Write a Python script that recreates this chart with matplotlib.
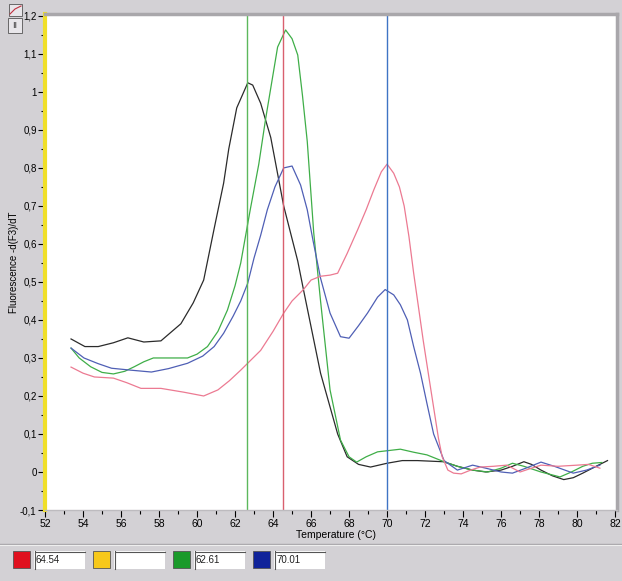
import matplotlib
matplotlib.use("Agg")
import matplotlib.pyplot as plt
from matplotlib.patches import Rectangle
from matplotlib.lines import Line2D
from matplotlib.ticker import MultipleLocator, FuncFormatter

plt.rcParams['font.family'] = ['Liberation Sans', 'DejaVu Sans']

# Curvas de fusion: temperatura (C) y -d(F3)/dT
black_t = [53.37, 54.1, 54.8, 55.6, 56.36, 57.2, 58.1, 59.15, 59.8, 60.35, 60.9, 61.4, 61.67,
           62.09, 62.67, 62.93, 63.35, 63.88, 64.56, 65.3, 65.6, 66.5, 67.4, 67.9, 68.5, 69.13,
           70.0, 70.8, 71.6, 72.97, 73.7, 74.5, 75.2, 76.0, 76.6, 77.2, 77.6, 78.1, 78.7, 79.3,
           79.8, 80.3, 81.0, 81.6]
black_v = [0.35, 0.33, 0.33, 0.34, 0.353, 0.342, 0.345, 0.39, 0.445, 0.505, 0.64, 0.76, 0.85,
           0.958, 1.024, 1.018, 0.97, 0.88, 0.70, 0.555, 0.48, 0.26, 0.10, 0.04, 0.02, 0.013,
           0.023, 0.03, 0.03, 0.027, 0.015, 0.005, 0.0, 0.005, 0.015, 0.027, 0.02, 0.005, -0.01, -0.02,
           -0.015, -0.003, 0.015, 0.03]

green_t = [53.37, 53.8, 54.4, 55.0, 55.6, 56.2, 56.7, 57.2, 57.7, 58.5, 59.5, 60.0, 60.55, 61.1,
           61.6, 62.0, 62.3, 62.8, 63.25, 63.6, 64.24, 64.66, 65.0, 65.3, 65.55, 65.8, 66.14, 66.5,
           67.0, 67.55, 68.0, 68.4, 68.9, 69.5, 70.7, 71.4, 72.1, 73.0, 73.7, 74.5, 75.3, 76.0,
           76.6, 77.2, 78.1, 79.1, 79.7, 80.3, 80.8, 81.3]
green_v = [0.326, 0.30, 0.277, 0.262, 0.258, 0.265, 0.277, 0.29, 0.30, 0.30, 0.30, 0.31, 0.33, 0.37,
           0.426, 0.49, 0.55, 0.69, 0.81, 0.926, 1.118, 1.163, 1.14, 1.097, 0.99, 0.87, 0.63, 0.45,
           0.216, 0.084, 0.04, 0.026, 0.04, 0.053, 0.06, 0.052, 0.045, 0.027, 0.015, 0.005, 0.0, 0.01,
           0.023, 0.015, 0.0, -0.013, 0.0, 0.015, 0.023, 0.025]

blue_t = [53.37, 54.05, 54.8, 55.5, 56.5, 57.6, 58.5, 59.5, 60.3, 60.9, 61.4, 61.9, 62.3, 62.67,
          63.0, 63.35, 63.7, 64.1, 64.56, 65.0, 65.45, 65.8, 66.1, 66.5, 67.0, 67.55, 68.0, 68.5,
          68.97, 69.5, 69.9, 70.35, 70.7, 71.07, 71.4, 71.76, 72.1, 72.45, 73.0, 73.7, 74.5, 75.2,
          76.0, 76.6, 77.3, 78.1, 78.8, 79.8, 80.5, 81.2]
blue_v = [0.326, 0.30, 0.285, 0.273, 0.268, 0.263, 0.272, 0.286, 0.305, 0.33, 0.365, 0.41, 0.45, 0.497,
          0.563, 0.623, 0.69, 0.75, 0.80, 0.805, 0.755, 0.69, 0.61, 0.51, 0.418, 0.356, 0.352, 0.385,
          0.418, 0.46, 0.48, 0.466, 0.44, 0.40, 0.33, 0.26, 0.18, 0.10, 0.03, 0.005, 0.018, 0.01,
          0.0, -0.003, 0.01, 0.026, 0.015, -0.003, 0.005, 0.018]

pink_t = [53.37, 54.0, 54.6, 55.6, 56.3, 57.05, 58.1, 59.3, 60.35, 61.1, 61.7, 62.3, 63.35, 64.0,
          64.56, 65.0, 65.6, 66.0, 66.5, 67.0, 67.4, 67.9, 68.45, 68.9, 69.3, 69.7, 70.0, 70.35,
          70.65, 70.9, 71.15, 71.4, 71.65, 71.9, 72.2, 72.45, 72.7, 72.9, 73.2, 73.5, 73.9, 74.4,
          74.9, 75.6, 76.3, 77.0, 77.6, 78.1, 79.0, 80.0, 80.6, 81.2]
pink_v = [0.276, 0.26, 0.25, 0.247, 0.235, 0.22, 0.22, 0.21, 0.20, 0.216, 0.24, 0.268, 0.32, 0.37,
          0.418, 0.45, 0.48, 0.505, 0.515, 0.518, 0.523, 0.575, 0.637, 0.69, 0.742, 0.79, 0.81, 0.786,
          0.75, 0.70, 0.62, 0.523, 0.435, 0.347, 0.25, 0.17, 0.09, 0.04, 0.005, -0.003, -0.005, 0.005,
          0.013, 0.015, 0.018, 0.0, 0.01, 0.018, 0.015, 0.018, 0.02, 0.01]

# Cursores (Tm)
cursor_red = 64.54
cursor_green = 62.61
cursor_blue = 70.01

bg = '#d3d1d5'
W, H = 622, 581
fig = plt.figure(figsize=(W / 100, H / 100), dpi=100, facecolor=bg)

def fx(px):
    return px / W

def fy(py):
    return 1 - py / H

ax = fig.add_axes([fx(45), fy(510), fx(617) - fx(45), fy(14) - fy(510)])
ax.set_facecolor('white')

ax.plot(black_t, black_v, color='#2b2b2b', lw=0.9)
ax.plot(green_t, green_v, color='#3fae48', lw=0.9)
ax.plot(blue_t, blue_v, color='#4f5fb5', lw=0.9)
ax.plot(pink_t, pink_v, color='#ec7a92', lw=0.9)

ax.axvline(cursor_green, color='#5cb85c', lw=1.0)
ax.axvline(cursor_red, color='#d9606f', lw=1.0)
ax.axvline(cursor_blue, color='#3f74c4', lw=1.0)

ax.set_xlim(52, 82.1)
ax.set_ylim(-0.1, 1.205)

ax.xaxis.set_major_locator(MultipleLocator(2))
ax.xaxis.set_minor_locator(MultipleLocator(1))
ax.yaxis.set_major_locator(MultipleLocator(0.1))
ax.yaxis.set_minor_locator(MultipleLocator(0.05))
ax.yaxis.set_major_formatter(FuncFormatter(lambda v, p: f'{round(v, 2):g}'.replace('.', ',')))

ax.tick_params(which='major', direction='out', length=5, width=0.8, labelsize=7.5, pad=1.5)
ax.tick_params(axis='y', which='major', labelsize=7, pad=1.0)
ax.tick_params(which='minor', direction='out', length=3, width=0.8)

ax.spines['left'].set_color('#f0df28')
ax.spines['left'].set_linewidth(3.0)
ax.spines['top'].set_color('#a9a7ab')
ax.spines['top'].set_linewidth(2.5)
ax.spines['right'].set_color('#a9a7ab')
ax.spines['right'].set_linewidth(2.5)
ax.spines['bottom'].set_color('#bdbbbf')
ax.spines['bottom'].set_linewidth(1.0)

ax.set_ylabel('Fluorescence -d(F3)/dT', fontsize=7)
ax.yaxis.set_label_coords(-0.046, 0.5)
ax.set_xlabel('Temperature (°C)', fontsize=7.5)
ax.xaxis.set_label_coords(0.508, -0.041)

# Barra inferior con los cursores
fig.add_artist(Line2D([fx(0), fx(W)], [fy(543.5), fy(543.5)], color='#a9a7ab', lw=1.0))
fig.add_artist(Line2D([fx(0), fx(W)], [fy(545), fy(545)], color='#eeeeee', lw=0.8))

swatches = ['#e0101e', '#f7c81a', '#1a9a2a', '#10239a']
values = ['64.54', '', '62.61', '70.01']
x0 = 13
for col, val in zip(swatches, values):
    fig.add_artist(Rectangle((fx(x0), fy(568)), fx(17), fy(551) - fy(568),
                             facecolor=col, edgecolor='#555555', lw=0.6))
    fig.add_artist(Rectangle((fx(x0 + 21), fy(569)), fx(51), fy(551) - fy(569),
                             facecolor='white', edgecolor='none'))
    fig.add_artist(Line2D([fx(x0 + 21.5), fx(x0 + 21.5)], [fy(569), fy(551)], color='#555555', lw=0.8))
    fig.add_artist(Line2D([fx(x0 + 21.5), fx(x0 + 72)], [fy(551.5), fy(551.5)], color='#555555', lw=0.8))
    fig.text(fx(x0 + 23), fy(560), val, fontsize=7, va='center', ha='left', color='#222222')
    x0 += 80

# Iconos de la esquina
fig.add_artist(Rectangle((fx(9), fy(16)), fx(13), fy(4) - fy(16),
                         facecolor='#e8e6ea', edgecolor='#555555', lw=0.6))
fig.add_artist(Line2D([fx(10), fx(15), fx(21)], [fy(14), fy(9), fy(6)], color='#c03040', lw=0.8))
fig.add_artist(Rectangle((fx(8), fy(33)), fx(14), fy(18) - fy(33),
                         facecolor='#e8e6ea', edgecolor='#555555', lw=0.6))
fig.text(fx(15), fy(25.5), 'II', fontsize=6.5, ha='center', va='center', color='#333333')

fig.savefig('out.png', dpi=100, facecolor=bg)
